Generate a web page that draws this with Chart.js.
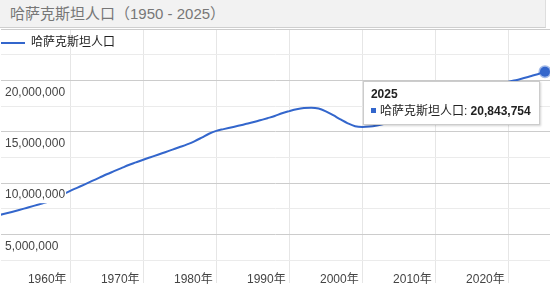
<!DOCTYPE html>
<html>
<head>
<meta charset="utf-8">
<script src="https://cdn.jsdelivr.net/npm/chart.js@4.4.1/dist/chart.umd.min.js"></script>
<style>
  html, body { margin: 0; padding: 0; background: #fff; }
  body { width: 551px; height: 284px; position: relative; overflow: hidden;
         font-family: Arial, "Liberation Sans", "Noto Sans CJK SC", sans-serif; }
  #title { position: absolute; left: 0; top: 0; width: 545px; height: 27px; line-height: 27px;
           background: #f2f2f2; border-bottom: 1px solid #cfcfcf; border-right: 1px solid #dedede;
           color: #777; font-size: 15px; text-indent: 10px; white-space: nowrap; z-index: 2; }
  #wrap { position: absolute; left: 0; top: 28px; width: 551px; height: 256px; }
  #tip { position: absolute; background: #fff; border: 1px solid #cccccc; box-shadow: 1px 1px 2px rgba(0,0,0,0.18);
         padding: 5px 8px 5px 7px; font-size: 12px; color: #222; white-space: nowrap; pointer-events: none; z-index: 3; }
  #tip .t { font-weight: bold; line-height: 15px; }
  #tip .r { line-height: 15px; margin-top: 2px; }
  #tip .sq { display: inline-block; width: 5px; height: 5px; margin-right: 4px; vertical-align: 2px; }
</style>
</head>
<body>
<div id="title">哈萨克斯坦人口（1950 - 2025）</div>
<div id="wrap"><canvas id="chart" width="551" height="256"></canvas></div>
<div id="tip" style="display:none"></div>
<script>
const seriesName = '哈萨克斯坦人口';
const years = [
  1950, 1951, 1952, 1953, 1954, 1955, 1956, 1957, 1958, 1959,
  1960, 1961, 1962, 1963, 1964, 1965, 1966, 1967, 1968, 1969,
  1970, 1971, 1972, 1973, 1974, 1975, 1976, 1977, 1978, 1979,
  1980, 1981, 1982, 1983, 1984, 1985, 1986, 1987, 1988, 1989,
  1990, 1991, 1992, 1993, 1994, 1995, 1996, 1997, 1998, 1999,
  2000, 2001, 2002, 2003, 2004, 2005, 2006, 2007, 2008, 2009,
  2010, 2011, 2012, 2013, 2014, 2015, 2016, 2017, 2018, 2019,
  2020, 2021, 2022, 2023, 2024, 2025
];
const population = [
  6830000, 7000000, 7180000, 7370000, 7570000, 7770000, 7980000, 8190000, 8500000, 8880000,
  9230000, 9550000, 9870000, 10200000, 10520000, 10850000, 11150000, 11450000, 11750000, 12010000,
  12270000, 12510000, 12750000, 13000000, 13250000, 13500000, 13760000, 14060000, 14420000, 14800000,
  15080000, 15250000, 15410000, 15570000, 15740000, 15910000, 16110000, 16310000, 16520000, 16800000,
  17000000, 17180000, 17300000, 17340000, 17260000, 16980000, 16600000, 16190000, 15810000, 15530000,
  15460000, 15500000, 15610000, 15760000, 15920000, 16100000, 16300000, 16510000, 16750000, 17000000,
  17250000, 17500000, 17750000, 18010000, 18300000, 18600000, 18900000, 19190000, 19450000, 19690000,
  19860000, 20010000, 20200000, 20400000, 20600000, 20843754
];
const xTickYears = [1960, 1970, 1980, 1990, 2000, 2010, 2020];
const yTickValues = [2500000, 5000000, 7500000, 10000000, 12500000, 15000000, 17500000, 20000000, 22500000, 25000000];
const yLabeledValues = [5000000, 10000000, 15000000, 20000000];

const blue = '#3366cc';
const fontFamily = 'Arial, "Liberation Sans", "Noto Sans CJK SC", sans-serif';
const fmt = v => v.toLocaleString('en-US');
const isLabeled = c => !!(c.tick && yLabeledValues.includes(c.tick.value));

function externalTip(context) {
  const tip = document.getElementById('tip');
  const model = context.tooltip;
  if (model.opacity === 0 || !model.dataPoints || !model.dataPoints.length) { tip.style.display = 'none'; return; }
  const dp = model.dataPoints[0];
  tip.innerHTML = '<div class="t">' + years[dp.dataIndex] + '</div>' +
    '<div class="r"><span class="sq" style="background:' + blue + '"></span>' + seriesName + ': <b>' +
    fmt(population[dp.dataIndex]) + '</b></div>';
  tip.style.display = 'block';
  const canvasTop = context.chart.canvas.getBoundingClientRect().top;
  tip.style.left = (model.caretX - 183) + 'px';
  tip.style.top = (canvasTop + model.caretY + 10) + 'px';
}

const chart = new Chart(document.getElementById('chart'), {
  type: 'line',
  data: {
    datasets: [{
      label: seriesName,
      data: years.map((y, i) => ({ x: y, y: population[i] })),
      borderColor: blue,
      backgroundColor: blue,
      borderWidth: 2,
      pointRadius: 0,
      pointHoverRadius: 5,
      pointHoverBackgroundColor: blue,
      pointHoverBorderColor: 'rgba(51,102,204,0.45)',
      pointHoverBorderWidth: 3,
      cubicInterpolationMode: 'monotone',
      fill: false
    }]
  },
  options: {
    responsive: false,
    animation: false,
    events: [],
    layout: { padding: 0 },
    plugins: {
      legend: {
        position: 'chartArea',
        align: 'start',
        title: { display: true, text: '', padding: 0, font: { size: 9, lineHeight: 1 } },
        labels: {
          boxWidth: 24,
          boxHeight: 2,
          padding: 0,
          color: '#222',
          font: { size: 12, family: fontFamily },
          generateLabels: c => Chart.defaults.plugins.legend.labels.generateLabels(c)
            .map(item => Object.assign(item, { lineWidth: 0, fillStyle: blue }))
        }
      },
      tooltip: { enabled: false, external: externalTip }
    },
    scales: {
      x: {
        type: 'linear',
        min: 1950.52,
        max: 2025.69,
        afterBuildTicks: s => { s.ticks = xTickYears.map(v => ({ value: v })); },
        afterFit: s => { s.height = 0; s.paddingLeft = 0; s.paddingRight = 0; },
        border: { display: false },
        grid: { color: '#e6e6e6', drawTicks: false },
        ticks: {
          mirror: true,
          padding: -4,
          labelOffset: -23,
          maxRotation: 0,
          autoSkip: false,
          color: '#444',
          font: { size: 12, family: fontFamily },
          callback: v => v + '年'
        }
      },
      y: {
        type: 'linear',
        min: 260000,
        max: 25000000,
        afterBuildTicks: s => { s.ticks = yTickValues.map(v => ({ value: v })); },
        afterFit: s => { s.width = 0; s.paddingTop = 0; s.paddingBottom = 0; },
        border: { display: false },
        grid: {
          drawTicks: false,
          color: c => (c.tick && c.tick.value % 5000000 === 0) ? '#cccccc' : '#ebebeb'
        },
        ticks: {
          mirror: true,
          padding: 4,
          labelOffset: 12,
          z: 1,
          autoSkip: false,
          showLabelBackdrop: isLabeled,
          backdropColor: '#ffffff',
          backdropPadding: 1,
          color: '#444',
          font: { size: 12, family: fontFamily },
          callback: v => yLabeledValues.includes(v) ? fmt(v) : ''
        }
      }
    }
  }
});

const last = years.length - 1;
const el = chart.getDatasetMeta(0).data[last];
chart.setActiveElements([{ datasetIndex: 0, index: last }]);
chart.tooltip.setActiveElements([{ datasetIndex: 0, index: last }], { x: el.x, y: el.y });
chart.update();
</script>
</body>
</html>
